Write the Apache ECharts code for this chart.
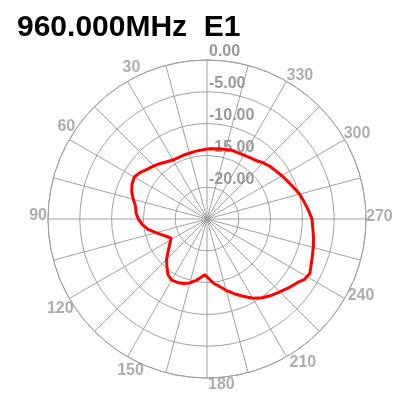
<!DOCTYPE html>
<html>
<head>
<meta charset="utf-8">
<script src="https://cdn.jsdelivr.net/npm/echarts@6/dist/echarts.min.js"></script>
<style>html,body{margin:0;padding:0;background:#fff}#c{width:405px;height:406px}</style>
</head>
<body>
<div id="c"></div>
<script>
const titleText = '960.000MHz  E1';
const angles = [0,10,15,20,30,40,45,50,55,60,65,70,75,80,85,90,95,100,105,110,115,118,120,125,130,135,140,145,150,155,160,165,170,175,178,180,183,186,190,195,200,205,210,215,220,225,230,235,238,242,245,250,255,260,265,270,275,280,285,290,295,300,305,310,315,320,325,330,340,350,360];
const gains = [-14.0,-14.2,-14.3,-14.3,-14.3,-13.6,-13.2,-12.8,-12.2,-11.8,-12.0,-12.4,-13.0,-13.6,-13.8,-14.2,-14.8,-15.6,-16.7,-17.6,-18.3,-18.6,-18.5,-17.8,-17.0,-16.0,-15.2,-14.3,-13.9,-14.0,-14.2,-14.6,-15.2,-15.9,-16.2,-16.0,-15.4,-14.8,-14.3,-13.4,-12.5,-11.6,-10.6,-9.9,-9.3,-8.8,-8.2,-7.6,-7.0,-6.7,-7.0,-7.4,-7.7,-8.0,-8.3,-8.5,-9.0,-9.5,-9.9,-10.5,-11.0,-11.4,-11.8,-12.1,-12.5,-13.0,-13.2,-13.4,-13.5,-13.8,-14.0];
const radiusTicks = [-25,-20,-15,-10,-5,0];
const angleLabels = [30,60,90,120,150,180,210,240,270,300,330];

const gray = '#a0a0a0';
const labelGray = '#999999';
const font = 'Liberation Sans, Arial';
// label placement style around the outer ring (align, verticalAlign, dx, dy)
const placement = {
  30:['center','bottom',4,-6], 60:['center','bottom',-3,-5], 90:['right','middle',-1,-3],
  120:['center','top',-9,2], 150:['center','top',3,6], 180:['left','top',1,-1],
  210:['left','top',3,-2], 240:['left','middle',3,-3], 270:['left','middle',0,-2],
  300:['left','bottom',-1,2], 330:['left','bottom',0,2]
};
const rMax = radiusTicks[radiusTicks.length-1];
const chart = echarts.init(document.getElementById('c'), null, {renderer:'canvas'});
chart.setOption({
  animation:false,
  title:{text:titleText,left:12,top:8,textStyle:{fontFamily:font,fontSize:30,fontWeight:'bold',color:'#000'}},
  polar:{center:[207,219],radius:159},
  angleAxis:{type:'value',min:0,max:360,interval:15,startAngle:90,clockwise:false,
    axisLine:{lineStyle:{color:gray,width:1}},
    axisTick:{show:false},
    splitLine:{lineStyle:{color:gray,width:1}},
    axisLabel:{show:false}
  },
  radiusAxis:{type:'value',min:radiusTicks[0],max:rMax,interval:5,
    axisLine:{show:false},axisTick:{show:false},
    splitLine:{lineStyle:{color:gray,width:1}},
    axisLabel:{margin:-2,align:'left',verticalAlign:'bottom',color:labelGray,fontFamily:font,fontSize:16,fontWeight:'bold',
      formatter:v=>v===radiusTicks[0]?'':v.toFixed(2)}
  },
  series:[
    {type:'line',coordinateSystem:'polar',symbol:'none',smooth:false,z:3,
      lineStyle:{color:'#ff0000',width:3},
      data:angles.map((a,i)=>[gains[i],a])},
    {type:'scatter',coordinateSystem:'polar',symbolSize:0,silent:true,z:4,
      data:angleLabels.map(a=>{const p=placement[a];return {value:[rMax,a],label:{show:true,position:[0,0],
        align:p[0],verticalAlign:p[1],offset:[p[2],p[3]],formatter:String(a),
        color:labelGray,fontFamily:font,fontSize:16,fontWeight:'bold'}};})}
  ]
});
</script>
</body>
</html>
